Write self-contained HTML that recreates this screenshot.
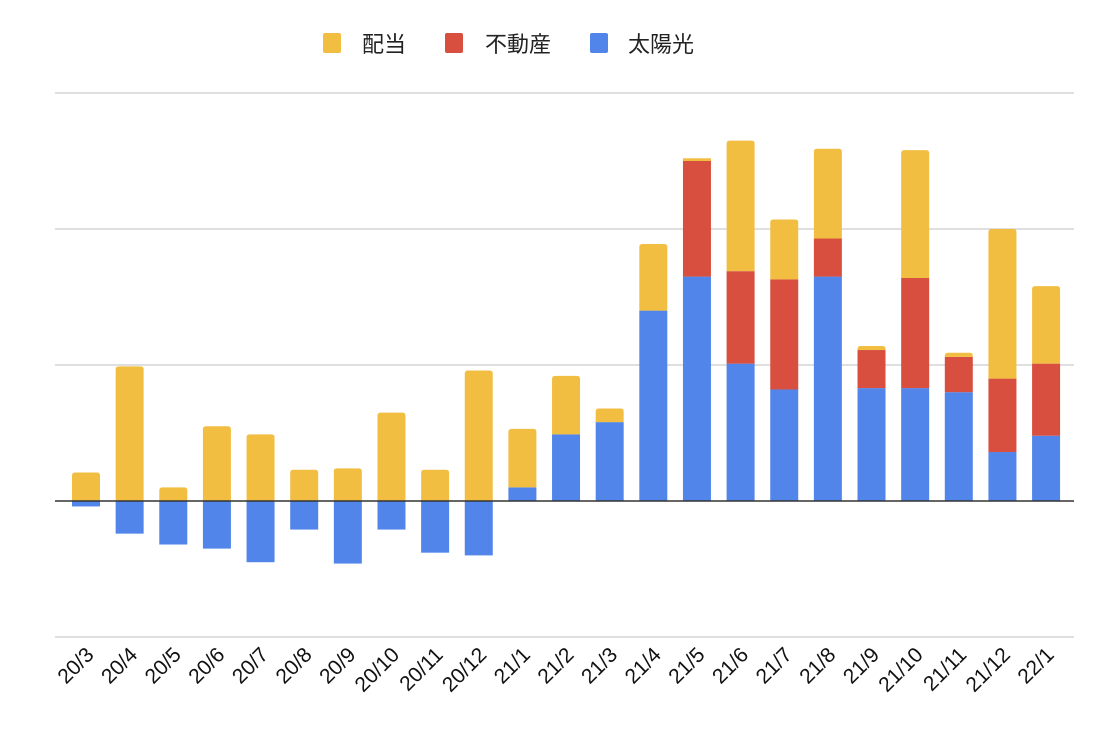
<!DOCTYPE html>
<html><head><meta charset="utf-8">
<style>
html,body{margin:0;padding:0;background:#fff;}
body{width:1100px;height:730px;overflow:hidden;font-family:"Liberation Sans","Noto Sans CJK JP",sans-serif;}
</style></head>
<body>
<svg id="chart" width="1100" height="730" xmlns="http://www.w3.org/2000/svg">
<g id="legend">
  <g>
    <rect x="323" y="33" width="18" height="20" rx="2" fill="#f1be42"/>
    <text x="362" y="52" font-size="22" fill="#222" font-family="Liberation Sans, Noto Sans CJK JP, sans-serif">配当</text>
  </g>
  <g>
    <rect x="445" y="33" width="18" height="20" rx="2" fill="#d94f3f"/>
    <text x="485" y="52" font-size="22" fill="#222" font-family="Liberation Sans, Noto Sans CJK JP, sans-serif">不動産</text>
  </g>
  <g>
    <rect x="590" y="33" width="18" height="20" rx="2" fill="#5185ea"/>
    <text x="628" y="52" font-size="22" fill="#222" font-family="Liberation Sans, Noto Sans CJK JP, sans-serif">太陽光</text>
  </g>
</g>
<g id="grid"></g>
<g id="bars"></g>
<g id="xlabels"></g>
</svg>
<script>
const categories = ["20/3","20/4","20/5","20/6","20/7","20/8","20/9","20/10","20/11","20/12","21/1","21/2","21/3","21/4","21/5","21/6","21/7","21/8","21/9","21/10","21/11","21/12","22/1"];
const solar = [-4,-24,-32,-35,-45,-21,-46,-21,-38,-40,10,49,58,140,165,101,82,165,83,83,80,36,48];
const realEstate = [0,0,0,0,0,0,0,0,0,0,0,0,0,0,85,68,81,28,28,81,26,54,53];
const dividend = [21,99,10,55,49,23,24,65,23,96,43,43,10,49,2,96,44,66,3,94,3,110,57];
const gridTicks = [-100,0,100,200,300];

const NS="http://www.w3.org/2000/svg";
const zeroY=501, pxPerUnit=1.36, x0=86, step=43.64, barW=28, left=55, right=1074;
function yScale(v){return zeroY - v*pxPerUnit;}
function xScale(i){return x0 + i*step;}
function mk(tag,attrs,parent){const e=document.createElementNS(NS,tag);for(const k in attrs)e.setAttribute(k,attrs[k]);parent.appendChild(e);return e;}

const grid=document.getElementById('grid');
gridTicks.forEach(t=>{
  if(t===0) return;
  const l=mk('line',{x1:left,x2:right,y1:yScale(t),y2:yScale(t),stroke:'#cccccc','stroke-width':1.3},grid);
  
  
});

const bars=document.getElementById('bars');
function seg(x,y1,y2,color,name,roundTop){
  const top=Math.min(y1,y2), h=Math.abs(y2-y1);
  if(h<=0) return;
  let el;
  if(roundTop && h>3){
    const r=3, xl=x-barW/2, xr=x+barW/2, b=top+h;
    el=mk('path',{d:`M${xl},${b} L${xl},${top+r} Q${xl},${top} ${xl+r},${top} L${xr-r},${top} Q${xr},${top} ${xr},${top+r} L${xr},${b} Z`,fill:color},bars);
  } else {
    el=mk('rect',{x:x-barW/2,y:top,width:barW,height:h,fill:color},bars);
  }
  
  
}
categories.forEach((c,i)=>{
  const x=xScale(i);
  const s=solar[i], r=realEstate[i], d=dividend[i];
  let base=0;
  if(s<0){ seg(x,yScale(0),yScale(s),'#5185ea','bar-solar',false); }
  else { seg(x,yScale(0),yScale(s),'#5185ea','bar-solar',r===0&&d===0); base=s; }
  seg(x,yScale(base),yScale(base+r),'#d94f3f','bar-real-estate',d===0); base+=r;
  seg(x,yScale(base),yScale(base+d),'#f1be42','bar-dividend',true);
});
const zl=mk('line',{x1:left,x2:right,y1:zeroY,y2:zeroY,stroke:'#333','stroke-width':1.6},bars);



const xl=document.getElementById('xlabels');
categories.forEach((c,i)=>{
  const x=xScale(i)+9, y=656;
  const t=mk('text',{x:x,y:y,'text-anchor':'end','font-size':21,fill:'#111',transform:`rotate(-45 ${x} ${y})`},xl);
  
  
  t.textContent=c;
});
</script>
</body></html>
